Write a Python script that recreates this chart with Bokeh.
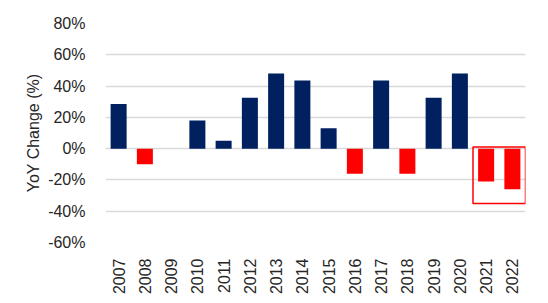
import math
from bokeh.plotting import figure
from bokeh.models import Range1d, FixedTicker, ColumnDataSource, NumeralTickFormatter
from bokeh.embed import file_html
from bokeh.resources import INLINE

years = ["2007", "2008", "2009", "2010", "2011", "2012", "2013", "2014",
         "2015", "2016", "2017", "2018", "2019", "2020", "2021", "2022"]
yoy_change = [28.5, -10.0, 0.0, 18.0, 5.0, 32.5, 48.0, 43.5,
              13.0, -16.0, 43.5, -16.0, 32.5, 48.0, -21.0, -26.0]
highlight_years = ["2021", "2022"]
y_ticks = [-60, -40, -20, 0, 20, 40, 60, 80]

NAVY = "#002060"
RED = "#FF0000"
FONT = "Liberation Sans"
TEXT = "#262626"

xs = [i + 0.5 for i in range(len(years))]
colors = [NAVY if v >= 0 else RED for v in yoy_change]
src = ColumnDataSource(dict(x=xs, top=yoy_change, color=colors))

p = figure(width=548, height=303, output_backend="svg", toolbar_location=None,
           x_range=Range1d(0, len(years)), y_range=Range1d(min(y_ticks), max(y_ticks)),
           min_border_left=105, min_border_right=23, min_border_top=23,
           min_border_bottom=61)
p.outline_line_color = None
p.background_fill_color = "white"
p.border_fill_color = "white"

p.vbar(x="x", top="top", bottom=0, width=0.61, fill_color="color",
       line_color=None, source=src)

# highlight box around selected years
hi_idx = [years.index(y) for y in highlight_years]
hi_vals = [yoy_change[i] for i in hi_idx]
p.quad(left=[min(hi_idx)], right=[max(hi_idx) + 1],
       top=[1.0], bottom=[min(hi_vals) - 9.0],
       fill_color=None, line_color=RED, line_width=1.5)

p.xgrid.grid_line_color = None
p.ygrid.grid_line_color = "#d9d9d9"
p.ygrid.grid_line_width = 1.5
p.ygrid.ticker = FixedTicker(ticks=y_ticks)

p.yaxis.ticker = FixedTicker(ticks=y_ticks)
p.yaxis.formatter = NumeralTickFormatter(format="0")
p.yaxis.major_label_overrides = {t: f"{t}%" for t in y_ticks}
p.yaxis.axis_label = "YoY Change (%)"
p.yaxis.axis_label_text_font = FONT
p.yaxis.axis_label_text_font_style = "normal"
p.yaxis.axis_label_text_font_size = "16px"
p.yaxis.axis_label_text_color = TEXT
p.yaxis.axis_label_standoff = 3

p.xaxis.ticker = FixedTicker(ticks=xs)
p.xaxis.major_label_overrides = {x: y for x, y in zip(xs, years)}
p.xaxis.major_label_orientation = math.pi / 2

for ax in (p.xaxis, p.yaxis):
    ax.axis_line_color = None
    ax.major_tick_line_color = None
    ax.minor_tick_line_color = None
    ax.major_label_text_font = FONT
    ax.major_label_text_font_size = "16px"
    ax.major_label_text_color = TEXT
p.yaxis.major_label_standoff = 14
p.xaxis.major_label_standoff = 10

open("out.html", "w").write(file_html(p, INLINE))
